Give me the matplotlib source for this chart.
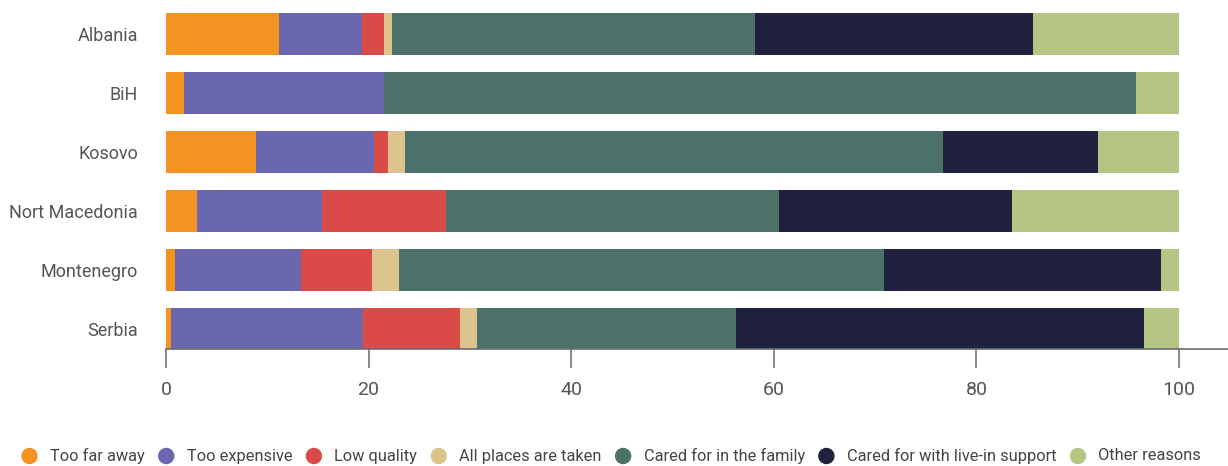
import numpy as np
import matplotlib.pyplot as plt

plt.rcParams['font.family'] = ['Roboto', 'DejaVu Sans']

countries = ["Albania", "BiH", "Kosovo", "Nort Macedonia", "Montenegro", "Serbia"]

too_far = [11.2, 1.8, 8.9, 3.1, 0.9, 0.5]
too_expensive = [8.1, 19.7, 11.6, 12.3, 12.4, 18.9]
low_quality = [2.2, 0.0, 1.4, 12.2, 7.0, 9.6]
places_taken = [0.8, 0.0, 1.7, 0.0, 2.7, 1.7]
family_care = [35.8, 74.3, 53.1, 32.9, 47.9, 25.6]
live_in_support = [27.5, 0.0, 15.3, 23.0, 27.3, 40.2]
other_reasons = [14.4, 4.2, 8.0, 16.5, 1.8, 3.5]

series = [
    ("Too far away", too_far, "#F39422"),
    ("Too expensive", too_expensive, "#6A67AF"),
    ("Low quality", low_quality, "#DA4B47"),
    ("All places are taken", places_taken, "#DDC48E"),
    ("Cared for in the family", family_care, "#4C7169"),
    ("Cared for with live-in support", live_in_support, "#20213F"),
    ("Other reasons", other_reasons, "#B5C684"),
]

W, H = 1228, 466
fig = plt.figure(figsize=(W / 100, H / 100), dpi=100)
ax = fig.add_axes([166 / W, 117 / H, (W - 166) / W, 349 / H])

y = np.arange(len(countries))
left = np.zeros(len(countries))
for name, vals, color in series:
    vals = np.array(vals)
    ax.barh(y, vals, left=left, height=0.71, color=color, linewidth=0)
    left += vals

ax.set_ylim(5 + 20 / 59, -34 / 59)
ax.set_xlim(0, (W - 166) / 10.13)
ax.set_xticks([0, 20, 40, 60, 80, 100])
ax.set_yticks(y)
ax.set_yticklabels(countries)

for s in ["top", "right", "left"]:
    ax.spines[s].set_visible(False)
ax.spines["bottom"].set_color("#6b6b6b")
ax.spines["bottom"].set_linewidth(1.2)

ax.tick_params(axis="x", length=14, width=1.3, color="#808080", pad=9,
               labelsize=14, labelcolor="#555555")
ax.tick_params(axis="y", length=0, pad=20, labelsize=13, labelcolor="#555555")

# legend row laid out by hand: dot, label, then the next entry
renderer = fig.canvas.get_renderer()
x = 22.0
ly = 10.0
for name, _, color in series:
    fig.patches.append(plt.Circle((x + 7.5, ly), 7.5, color=color,
                                  transform=None, figure=fig))
    x += 15 + 13
    t = fig.text(x / W, ly / H, name, ha="left", va="center",
                 fontsize=11.8, color="#444444")
    x += t.get_window_extent(renderer).width + 14

fig.savefig("out.png", dpi=100)
